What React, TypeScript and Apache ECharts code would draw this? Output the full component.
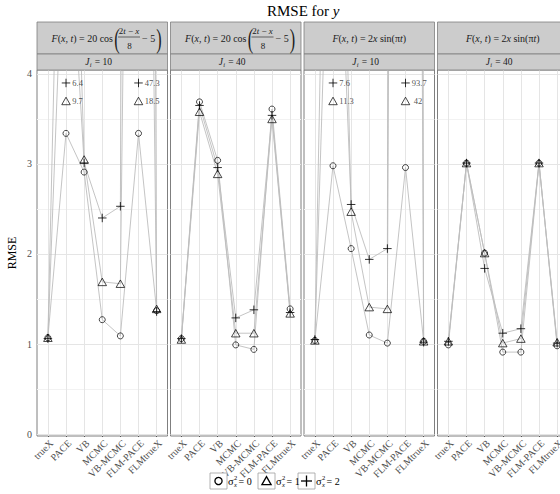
import React, { useEffect, useRef } from "react";
import * as echarts from "echarts";

const categories = ["trueX", "PACE", "VB", "MCMC", "VB-MCMC", "FLM-PACE", "FLMtrueX"];
const yTicks = [0, 1, 2, 3, 4];
const yMinorTicks = [0.5, 1.5, 2.5, 3.5];
const sigmaLevels = [0, 1, 2];
const panelJ = [10, 40, 10, 40];
const panelFn = ["cos", "cos", "sin", "sin"];

// RMSE values, panel p, sigma_x^2 level
const p1Sigma0 = [1.07, 3.34, 2.91, 1.27, 1.09, 3.34, 1.37];
const p1Sigma1 = [1.07, 9.7, 3.05, 1.69, 1.67, 18.5, 1.39];
const p1Sigma2 = [1.06, 6.4, 3.01, 2.4, 2.53, 47.3, 1.36];
const p2Sigma0 = [1.06, 3.69, 3.04, 0.99, 0.94, 3.61, 1.39];
const p2Sigma1 = [1.05, 3.58, 2.89, 1.12, 1.12, 3.5, 1.34];
const p2Sigma2 = [1.06, 3.65, 2.96, 1.29, 1.38, 3.54, 1.35];
const p3Sigma0 = [1.04, 2.98, 2.06, 1.1, 1.01, 2.96, 1.03];
const p3Sigma1 = [1.04, 11.3, 2.47, 1.41, 1.39, 42, 1.03];
const p3Sigma2 = [1.05, 7.6, 2.55, 1.94, 2.06, 93.7, 1.02];
const p4Sigma0 = [0.99, 3.01, 2.01, 0.91, 0.91, 3.01, 0.98];
const p4Sigma1 = [1.03, 3.01, 2.01, 1.01, 1.06, 3.01, 1.02];
const p4Sigma2 = [1.03, 3.01, 1.84, 1.12, 1.17, 3.01, 1.01];

const panelData = [
  [p1Sigma0, p1Sigma1, p1Sigma2],
  [p2Sigma0, p2Sigma1, p2Sigma2],
  [p3Sigma0, p3Sigma1, p3Sigma2],
  [p4Sigma0, p4Sigma1, p4Sigma2],
];

const FONT = "Liberation Serif";
const PLUS = "path://M0,5L10,5M5,0L5,10";
const LEFTS = [37, 170.5, 304, 437.5];
const PW = 130.5;
const PTOP = 70;
const PH = 366;
const Y_MIN = -0.022;
const Y_MAX = 4.044;
const Y_CAP = 4;
const ANNOT_Y = [0, 3.7, 3.9];

const symbolFor = (s: number) => {
  if (s === 0)
    return {
      symbol: "circle",
      symbolSize: 6,
      itemStyle: { color: "transparent", borderColor: "#000", borderWidth: 0.9 },
    };
  if (s === 1)
    return {
      symbol: "triangle",
      symbolSize: [8.5, 7.5],
      itemStyle: { color: "transparent", borderColor: "#000", borderWidth: 0.9 },
    };
  return {
    symbol: PLUS,
    symbolSize: 8.5,
    itemStyle: { color: "transparent", borderColor: "#000", borderWidth: 1 },
  };
};

const italic = (size: number) => ({
  fontStyle: "italic",
  fontSize: size,
  fontFamily: FONT,
  fill: "#1a1a1a",
});
const normal = (size: number) => ({ fontSize: size, fontFamily: FONT, fill: "#1a1a1a" });

function stripElements(i: number): any[] {
  const L = LEFTS[i];
  const cx = L + PW / 2;
  const els: any[] = [
    {
      type: "rect",
      shape: { x: L, y: 22, width: PW, height: 32 },
      style: { fill: "#cccccc", stroke: "#7f7f7f", lineWidth: 0.8 },
      z: 10,
    },
    {
      type: "rect",
      shape: { x: L, y: 54, width: PW, height: 16 },
      style: { fill: "#cccccc", stroke: "#7f7f7f", lineWidth: 0.8 },
      z: 10,
    },
    {
      type: "text",
      x: cx - 17,
      y: 62,
      style: { text: "J", ...italic(9.5), align: "left", verticalAlign: "middle" },
      z: 11,
    },
    {
      type: "text",
      x: cx - 12.5,
      y: 64.5,
      style: { text: "i", ...italic(6.5), align: "left", verticalAlign: "middle" },
      z: 11,
    },
    {
      type: "text",
      x: cx - 7.5,
      y: 62,
      style: { text: "= " + panelJ[i], ...normal(9.5), align: "left", verticalAlign: "middle" },
      z: 11,
    },
  ];
  if (panelFn[i] === "cos") {
    els.push(
      {
        type: "text",
        x: L + 76,
        y: 38,
        style: {
          text: "{i|F}({i|x}, {i|t}) = 20 cos",
          ...normal(10),
          rich: { i: italic(10) },
          align: "right",
          verticalAlign: "middle",
        },
        z: 11,
      },
      {
        type: "text",
        x: L + 80,
        y: 39,
        scaleX: 0.6,
        style: { text: "(", ...normal(27), align: "center", verticalAlign: "middle" },
        z: 11,
      },
      {
        type: "text",
        x: L + 92,
        y: 30.5,
        style: {
          text: "2{i|t} \u2212 {i|x}",
          ...normal(9),
          rich: { i: italic(9) },
          align: "center",
          verticalAlign: "middle",
        },
        z: 11,
      },
      {
        type: "line",
        shape: { x1: L + 81, y1: 37, x2: L + 103, y2: 37 },
        style: { stroke: "#1a1a1a", lineWidth: 0.6 },
        z: 11,
      },
      {
        type: "text",
        x: L + 92.5,
        y: 46,
        style: { text: "8", ...normal(9), align: "center", verticalAlign: "middle" },
        z: 11,
      },
      {
        type: "text",
        x: L + 105,
        y: 38,
        style: { text: "\u2212 5", ...normal(10), align: "left", verticalAlign: "middle" },
        z: 11,
      },
      {
        type: "text",
        x: L + 122,
        y: 39,
        scaleX: 0.6,
        style: { text: ")", ...normal(27), align: "center", verticalAlign: "middle" },
        z: 11,
      }
    );
  } else {
    els.push({
      type: "text",
      x: cx,
      y: 38,
      style: {
        text: "{i|F}({i|x}, {i|t}) = 2{i|x} sin(\u03c0{i|t})",
        ...normal(10),
        rich: { i: italic(10) },
        align: "center",
        verticalAlign: "middle",
      },
      z: 11,
    });
  }
  return els;
}

function legendElements(): any[] {
  const boxes = [210, 258, 298];
  const els: any[] = [];
  sigmaLevels.forEach((s, k) => {
    const bx = boxes[k];
    const cx = bx + 8.5;
    const cy = 481;
    els.push({
      type: "rect",
      shape: { x: bx, y: 473, width: 17, height: 16 },
      style: { fill: "#fff", stroke: "#a0a0a0", lineWidth: 0.8 },
      z: 20,
    });
    if (s === 0) {
      els.push({
        type: "circle",
        shape: { cx, cy, r: 3.6 },
        style: { fill: "none", stroke: "#000", lineWidth: 1.3 },
        z: 21,
      });
    } else if (s === 1) {
      els.push({
        type: "polygon",
        shape: {
          points: [
            [cx - 4.6, cy + 3.6],
            [cx + 4.6, cy + 3.6],
            [cx, cy - 4.4],
          ],
        },
        style: { fill: "none", stroke: "#000", lineWidth: 1.3 },
        z: 21,
      });
    } else {
      els.push(
        {
          type: "line",
          shape: { x1: cx - 5.5, y1: cy, x2: cx + 5.5, y2: cy },
          style: { stroke: "#000", lineWidth: 1.3 },
          z: 21,
        },
        {
          type: "line",
          shape: { x1: cx, y1: cy - 5.5, x2: cx, y2: cy + 5.5 },
          style: { stroke: "#000", lineWidth: 1.3 },
          z: 21,
        }
      );
    }
    els.push(
      {
        type: "text",
        x: bx + 18,
        y: cy,
        style: { text: "\u03c3", ...normal(10.5), fill: "#000", align: "left", verticalAlign: "middle" },
        z: 21,
      },
      {
        type: "text",
        x: bx + 24,
        y: cy - 4,
        style: { text: "2", ...normal(6.5), fill: "#000", align: "left", verticalAlign: "middle" },
        z: 21,
      },
      {
        type: "text",
        x: bx + 24,
        y: cy + 3.5,
        style: { text: "x", ...italic(6.5), fill: "#000", align: "left", verticalAlign: "middle" },
        z: 21,
      },
      {
        type: "text",
        x: bx + 28.5,
        y: cy,
        style: { text: "= " + s, ...normal(10), fill: "#000", align: "left", verticalAlign: "middle" },
        z: 21,
      }
    );
  });
  return els;
}

function buildOption() {
  const grid = LEFTS.map((left) => ({
    left,
    top: PTOP,
    width: PW,
    height: PH,
    show: true,
    backgroundColor: "#fff",
    borderColor: "#7f7f7f",
    borderWidth: 1,
    containLabel: false,
  }));
  const catIdx = categories.map((_, k) => k);
  const xAxis = LEFTS.map((_, i) => ({
    type: "value",
    gridIndex: i,
    min: -0.6,
    max: 6.6,
    axisLine: { show: false },
    axisTick: { show: true, length: 3, customValues: catIdx, lineStyle: { color: "#333", width: 0.8 } },
    axisLabel: {
      show: true,
      customValues: catIdx,
      formatter: (v: number) => categories[Math.round(v)] ?? "",
      rotate: 45,
      margin: 2,
      verticalAlign: "top",
      fontSize: 10,
      fontFamily: FONT,
      color: "#4d4d4d",
    },
    splitLine: { show: false },
  }));
  const yAxis = LEFTS.map((_, i) => ({
    type: "value",
    gridIndex: i,
    min: Y_MIN,
    max: Y_MAX,
    name: i === 0 ? "RMSE" : "",
    nameLocation: "middle",
    nameRotate: 90,
    nameGap: 19,
    nameTextStyle: { fontFamily: FONT, fontSize: 12, color: "#000" },
    axisLine: { show: false },
    axisTick: { show: i === 0, length: 3, customValues: yTicks, lineStyle: { color: "#333", width: 0.8 } },
    axisLabel: {
      show: i === 0,
      customValues: yTicks,
      margin: 5,
      fontSize: 10,
      fontFamily: FONT,
      color: "#4d4d4d",
    },
    splitLine: { show: false },
  }));

  const series: any[] = [];
  panelData.forEach((sets, i) => {
    // grid lines (kept beneath the data)
    series.push({
      type: "line",
      xAxisIndex: i,
      yAxisIndex: i,
      data: [],
      silent: true,
      z: 1,
      markLine: {
        silent: true,
        z: 1,
        symbol: ["none", "none"],
        label: { show: false },
        emphasis: { disabled: true },
        animation: false,
        data: [
          ...yMinorTicks.map((v) => ({ yAxis: v, lineStyle: { color: "#f2f2f2", width: 1, type: "solid" } })),
          ...yTicks.map((v) => ({ yAxis: v, lineStyle: { color: "#e5e5e5", width: 1, type: "solid" } })),
          ...catIdx.map((v) => ({ xAxis: v, lineStyle: { color: "#e5e5e5", width: 1, type: "solid" } })),
        ],
      },
    });
    // connecting lines
    sets.forEach((vals, s) => {
      series.push({
        type: "line",
        name: "line" + s,
        xAxisIndex: i,
        yAxisIndex: i,
        data: vals.map((v, k) => [k, v]),
        clip: true,
        silent: true,
        z: 6,
        showSymbol: false,
        symbol: "none",
        lineStyle: { color: "#bdbdbd", width: 0.9 },
      });
    });
    // point symbols
    sets.forEach((vals, s) => {
      series.push({
        type: "scatter",
        name: "s" + s,
        xAxisIndex: i,
        yAxisIndex: i,
        data: vals.map((v, k) => [k, v]),
        clip: true,
        silent: true,
        z: 7,
        ...symbolFor(s),
      });
    });
    // annotations for values above the displayed range
    [1, 2].forEach((s) => {
      const pts = sets[s]
        .map((v, k) => ({ v, k }))
        .filter((d) => d.v > Y_CAP)
        .map((d) => ({ value: [d.k, ANNOT_Y[s], d.v] }));
      if (pts.length === 0) return;
      series.push({
        type: "scatter",
        xAxisIndex: i,
        yAxisIndex: i,
        data: pts,
        silent: true,
        z: 8,
        ...symbolFor(s),
        label: {
          show: true,
          position: "right",
          distance: 1.5,
          fontSize: 8.5,
          fontFamily: FONT,
          color: "#222",
          formatter: (p: any) => String(p.value[2]).padStart(3, " "),
        },
      });
    });
  });

  const graphic: any[] = [];
  LEFTS.forEach((_, i) => graphic.push(...stripElements(i)));
  graphic.push(...legendElements());

  return {
    animation: false,
    backgroundColor: "#fff",
    textStyle: { fontFamily: FONT },
    title: {
      text: "RMSE for {i|y}",
      left: 267,
      top: 3,
      padding: 0,
      textStyle: {
        fontFamily: FONT,
        fontSize: 15,
        fontWeight: "normal",
        color: "#000",
        rich: { i: { fontFamily: FONT, fontSize: 15, fontStyle: "italic", color: "#000" } },
      },
    },
    grid,
    xAxis,
    yAxis,
    series,
    graphic,
  };
}

export default function App() {
  const ref = useRef<HTMLDivElement>(null);
  useEffect(() => {
    if (!ref.current) return;
    const chart = echarts.init(ref.current, null, { renderer: "svg" });
    chart.setOption(buildOption() as any);
    return () => chart.dispose();
  }, []);
  return (
    <div
      style={{
        position: "fixed",
        left: 0,
        top: 0,
        width: 560,
        height: 494,
        overflow: "hidden",
        background: "#fff",
      }}
    >
      <div ref={ref} style={{ width: 578, height: 494 }} />
    </div>
  );
}
